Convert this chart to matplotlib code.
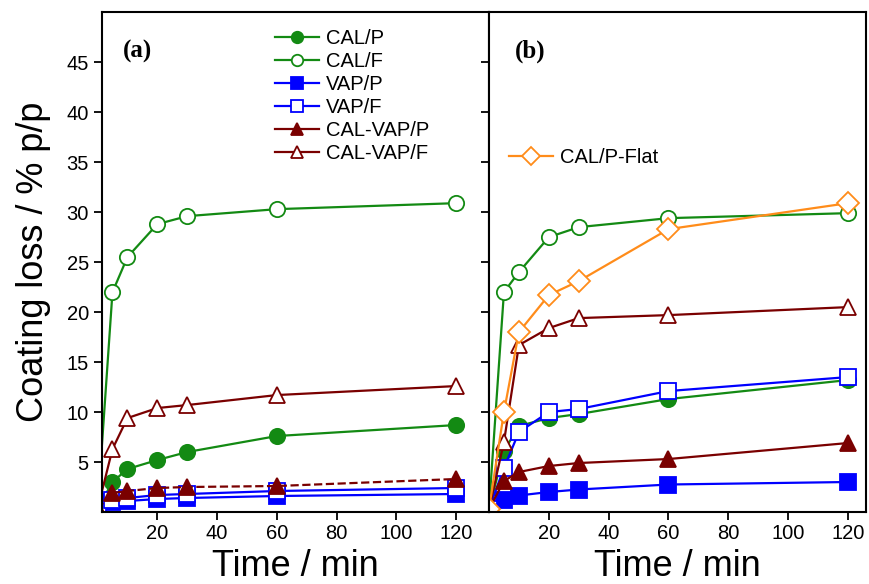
import matplotlib
matplotlib.use("Agg")
import matplotlib.pyplot as plt

plt.rcParams['font.family'] = ['Liberation Sans', 'DejaVu Sans']

# sampling times (min)
t = [0, 5, 10, 20, 30, 60, 120]

# panel (a)
a_cal_p = [0.3, 3.0, 4.3, 5.2, 6.0, 7.6, 8.7]
a_cal_f = [0.3, 22.0, 25.5, 28.8, 29.6, 30.3, 30.9]
a_vap_p = [0.3, 1.0, 1.1, 1.3, 1.4, 1.6, 1.8]
a_vap_f = [0.3, 1.2, 1.4, 1.7, 1.8, 2.1, 2.4]
a_cv_p = [0.3, 1.9, 2.1, 2.4, 2.5, 2.6, 3.3]
a_cv_f = [0.3, 6.3, 9.4, 10.4, 10.7, 11.7, 12.6]

# panel (b)
b_cal_p = [0.3, 6.1, 8.6, 9.4, 9.8, 11.3, 13.2]
b_cal_f = [0.3, 22.0, 24.0, 27.5, 28.5, 29.4, 29.9]
b_vap_p = [0.3, 1.2, 1.65, 2.0, 2.25, 2.75, 3.0]
b_vap_f = [0.3, 4.4, 8.0, 10.0, 10.3, 12.1, 13.5]
b_cv_p = [0.3, 3.1, 4.0, 4.6, 4.9, 5.3, 6.9]
b_cv_f = [0.3, 7.0, 16.7, 18.4, 19.4, 19.7, 20.5]
b_flat = [0.3, 10.0, 18.0, 21.7, 23.1, 28.3, 30.9]

green = '#138a13'
blue = '#0000ff'
red = '#7a0000'
orange = '#ff8c1a'

xticks = [20, 40, 60, 80, 100, 120]
yticks = [5, 10, 15, 20, 25, 30, 35, 40, 45]

fig = plt.figure(figsize=(8.69, 5.84), dpi=100)
ax1 = fig.add_axes([0.1174, 0.1233, 0.4453, 0.8557])
ax2 = fig.add_axes([0.5627, 0.1233, 0.4338, 0.8557])

ms = 11
lw = 1.6


def series(ax, y, color, marker, filled, label, ls='-'):
    ax.plot(t, y, color=color, lw=lw, ls=ls, marker=marker, ms=ms,
            mfc=color if filled else 'white', mec=color, mew=1.3,
            label=label, clip_on=True)


series(ax1, a_cal_p, green, 'o', True, 'CAL/P')
series(ax1, a_cal_f, green, 'o', False, 'CAL/F')
series(ax1, a_vap_p, blue, 's', True, 'VAP/P')
series(ax1, a_vap_f, blue, 's', False, 'VAP/F')
series(ax1, a_cv_p, red, '^', True, 'CAL-VAP/P', ls='--')
series(ax1, a_cv_f, red, '^', False, 'CAL-VAP/F')

series(ax2, b_cal_p, green, 'o', True, 'CAL/P')
series(ax2, b_cal_f, green, 'o', False, 'CAL/F')
series(ax2, b_vap_p, blue, 's', True, 'VAP/P')
series(ax2, b_vap_f, blue, 's', False, 'VAP/F')
series(ax2, b_cv_p, red, '^', True, 'CAL-VAP/P')
series(ax2, b_cv_f, red, '^', False, 'CAL-VAP/F')
series(ax2, b_flat, orange, 'D', False, 'CAL/P-Flat')

# legend for (a), drawn with solid lines
h, l = ax1.get_legend_handles_labels()
h[4].set_linestyle('-')
ax1.legend(h, l, loc='upper left', bbox_to_anchor=(0.415, 0.99),
           frameon=False, fontsize=14.5, handlelength=2.2,
           labelspacing=0.2, handletextpad=0.35, markerscale=0.75,
           borderaxespad=0.2)
h[4].set_linestyle('--')
h2, l2 = ax2.get_legend_handles_labels()
ax2.legend([h2[-1]], [l2[-1]], loc='upper left', bbox_to_anchor=(0.02, 0.752),
           frameon=False, fontsize=14.5, handlelength=2.2,
           handletextpad=0.35, markerscale=0.8, borderaxespad=0.2)

ax1.set_xlim(1.5, 131)
ax2.set_xlim(0, 126)
for ax in (ax1, ax2):
    ax.set_ylim(0, 50)
    ax.set_xticks(xticks)
    ax.tick_params(axis='x', direction='out', length=6, width=1.3,
                   labelsize=14.5, pad=3)
    for s in ax.spines.values():
        s.set_linewidth(1.5)

ax1.set_yticks(yticks)
ax1.tick_params(axis='y', direction='out', length=6, width=1.3,
                labelsize=14.5, right=True)
# right ticks of panel (a) point inward
for tk in ax1.yaxis.get_major_ticks():
    tk.tick2line.set_marker(0)
    tk.tick2line.set_markersize(6)
ax2.set_yticks([])

ax1.set_ylabel('Coating loss / % p/p', fontsize=26, labelpad=11)
ax1.set_xlabel('Time / min', fontsize=26, labelpad=4)
ax2.set_xlabel('Time / min', fontsize=26, labelpad=4)

ax1.text(0.055, 0.91, '(a)', transform=ax1.transAxes, fontsize=18,
         fontweight='bold', family='Liberation Serif')
ax2.text(0.07, 0.91, '(b)', transform=ax2.transAxes, fontsize=18,
         fontweight='bold', family='Liberation Serif')

plt.savefig('out.png', dpi=100)
